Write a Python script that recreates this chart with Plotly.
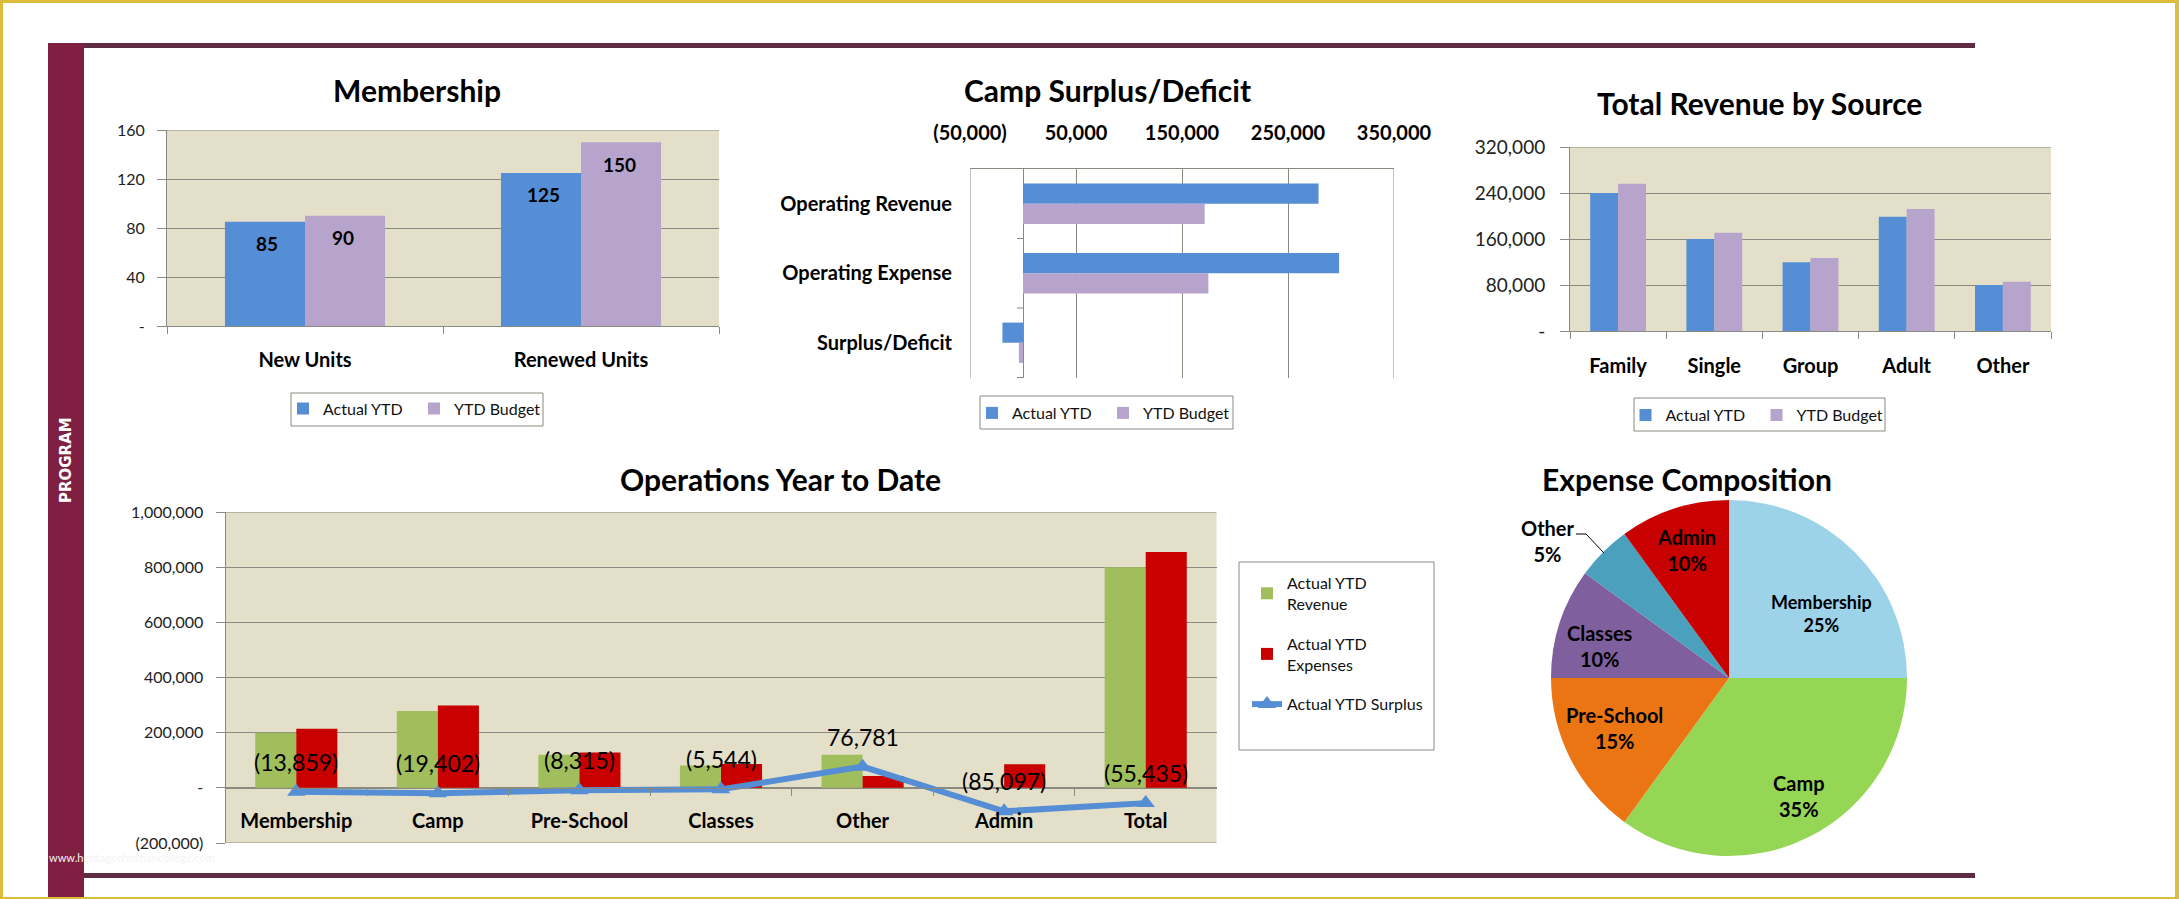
import plotly.graph_objects as go

W, H = 2179, 899

# ---- data ----
mem_cats = ["New Units", "Renewed Units"]
mem_actual = [85, 125]
mem_budget = [90, 150]
mem_ticks = [0, 40, 80, 120, 160]
mem_ticktext = ["-", "40", "80", "120", "160"]

camp_cats = ["Operating Revenue", "Operating Expense", "Surplus/Deficit"]
camp_actual = [278800, 298200, -19402]
camp_budget = [171400, 174900, -3900]
camp_ticks = [-50000, 50000, 150000, 250000, 350000]
camp_ticktext = ["(50,000)", "50,000", "150,000", "250,000", "350,000"]

rev_cats = ["Family", "Single", "Group", "Adult", "Other"]
rev_actual = [240000, 160000, 119400, 198800, 80000]
rev_budget = [256200, 171000, 127000, 212200, 85800]
rev_ticks = [0, 80000, 160000, 240000, 320000]
rev_ticktext = ["-", "80,000", "160,000", "240,000", "320,000"]

ops_cats = ["Membership", "Camp", "Pre-School", "Classes", "Other", "Admin", "Total"]
ops_revenue = [200000, 278800, 120000, 81000, 119781, 0, 800000]
ops_expenses = [213859, 298202, 128315, 86544, 43000, 85097, 855435]
ops_surplus = [-13859, -19402, -8315, -5544, 76781, -85097, -55435]
ops_labels = ["(13,859)", "(19,402)", "(8,315)", "(5,544)", "76,781", "(85,097)", "(55,435)"]
ops_ticks = [-200000, 0, 200000, 400000, 600000, 800000, 1000000]
ops_ticktext = ["(200,000)", "-", "200,000", "400,000", "600,000", "800,000", "1,000,000"]

pie_labels = ["Membership", "Camp", "Pre-School", "Classes", "Other", "Admin"]
pie_values = [25, 35, 15, 10, 5, 10]
pie_colors = ["#9DD3E8", "#95D655", "#EC7513", "#7F5F9D", "#4BA0BE", "#C80000"]

# ---- styling ----
FONT = "Lato"
BLUE, PURPLE, TAN = "#558ED5", "#B7A4CC", "#E3DFC8"
GREEN, RED = "#A0BF5C", "#C80000"
GRID = "#8A8A80"
MAROON_TOP, MAROON_SIDE = "#5E2D44", "#7F1F41"
GOLD = "#DCBC3C"

def fx(p): return p / W
def fy(p): return 1 - p / H
def dom_x(a, b): return [fx(a), fx(b)]
def dom_y(top, bot): return [fy(bot), fy(top)]

shapes, annos = [], []

def rect(x0, y0, x1, y1, fill=None, line=None, layer="above"):
    shapes.append(dict(type="rect", xref="paper", yref="paper", x0=fx(x0), x1=fx(x1), y0=fy(y1), y1=fy(y0),
                       fillcolor=fill or "rgba(0,0,0,0)",
                       line=dict(width=1 if line else 0, color=line or "rgba(0,0,0,0)"), layer=layer))

def text(x, y, s, size, bold=True, color="#000", angle=0, xanchor="center"):
    annos.append(dict(xref="paper", yref="paper", x=fx(x), y=fy(y), text=s, showarrow=False, textangle=angle,
                      xanchor=xanchor, yanchor="middle",
                      font=dict(family=FONT, size=size, color=color, weight=700 if bold else 400)))

# page furniture
rect(0, 0, W, 3, GOLD); rect(0, 0, 3, H, GOLD); rect(2175, 0, W, H, GOLD); rect(0, 897, W, H, GOLD)
rect(48, 43, 1975, 48, MAROON_TOP); rect(80, 873, 1975, 878, MAROON_TOP)
rect(48, 43, 84, 897, MAROON_SIDE)
annos.append(dict(xref="paper", yref="paper", x=fx(66), y=fy(460), text="PROGRAM", showarrow=False, textangle=-90,
                  xanchor="center", yanchor="middle",
                  font=dict(family="DejaVu Sans", size=15, color="#FFFFFF", weight=700)))
text(47, 857, "www.heritagechristiancollege.com", 11, bold=False, color="#F3F3F3", xanchor="left")

# titles
text(417, 90, "Membership", 30)
text(1107, 90, "Camp Surplus/Deficit", 30)
text(1759, 103, "Total Revenue by Source", 30)
text(780, 479, "Operations Year to Date", 30)
text(1687, 479, "Expense Composition", 30)

# plot panels
rect(167, 130, 719, 326, TAN, None, "below")
rect(1570, 147, 2051, 331, TAN, None, "below")
rect(225.5, 512, 1216.5, 843, TAN, None, "below")

# legend frames
rect(291, 393, 543, 426, "#FFFFFF", GRID, "below")
rect(980, 396, 1233, 429, "#FFFFFF", GRID, "below")
rect(1634, 398, 1885, 431, "#FFFFFF", GRID, "below")
rect(1239, 562, 1434, 750, "#FFFFFF", GRID, "below")

# gridlines that sit on the very end of an axis range
def hline(xa, ya, v):
    shapes.append(dict(type="line", xref=f"{xa} domain", yref=ya, x0=0, x1=1, y0=v, y1=v, layer="below",
                       line=dict(color=GRID, width=1)))
def vline(xa, ya, v):
    shapes.append(dict(type="line", xref=xa, yref=f"{ya} domain", x0=v, x1=v, y0=0, y1=1, layer="below",
                       line=dict(color=GRID, width=1)))
hline("x", "y", mem_ticks[-1])
hline("x3", "y3", rev_ticks[-1])
hline("x4", "y4", ops_ticks[-1])
hline("x4", "y4", ops_ticks[0])
vline("x2", "y2", camp_ticks[0])
vline("x2", "y2", camp_ticks[-1])

fig = go.Figure()

def bars(x, y, name, color, xa, ya, legend, orient="v", group=None):
    fig.add_trace(go.Bar(x=x, y=y, name=name, marker=dict(color=color, line=dict(width=0)), orientation=orient,
                         xaxis=xa, yaxis=ya, legend=legend, legendgroup=group))

bars(mem_cats, mem_actual, "Actual YTD", BLUE, "x", "y", "legend")
bars(mem_cats, mem_budget, "YTD Budget", PURPLE, "x", "y", "legend")
bars(camp_actual, camp_cats, "Actual YTD", BLUE, "x2", "y2", "legend2", "h")
bars(camp_budget, camp_cats, "YTD Budget", PURPLE, "x2", "y2", "legend2", "h")
bars(rev_cats, rev_actual, "Actual YTD", BLUE, "x3", "y3", "legend3")
bars(rev_cats, rev_budget, "YTD Budget", PURPLE, "x3", "y3", "legend3")
bars(ops_cats, ops_revenue, "Actual YTD<br>Revenue", GREEN, "x4", "y4", "legend4", group="rev")
bars(ops_cats, ops_expenses, "Actual YTD<br>Expenses", RED, "x4", "y4", "legend4", group="exp")
fig.add_trace(go.Scatter(x=ops_cats, y=ops_surplus, name="Actual YTD Surplus", mode="lines+markers",
                         line=dict(color=BLUE, width=6), marker=dict(symbol="triangle-up", size=16, color=BLUE),
                         xaxis="x4", yaxis="y4", legend="legend4", legendgroup="sur"))
fig.add_trace(go.Pie(labels=pie_labels, values=pie_values, sort=False, direction="clockwise", rotation=0,
                     marker=dict(colors=pie_colors, line=dict(width=0)), textinfo="none", showlegend=False,
                     domain=dict(x=dom_x(1551, 1907), y=dom_y(500, 856))))

# value labels on the Membership bars
for cat, a, b in zip(mem_cats, mem_actual, mem_budget):
    for v, shift in ((a, -38), (b, 38)):
        annos.append(dict(xref="x", yref="y", x=cat, y=v, xshift=shift, yshift=-22, text=str(v), showarrow=False,
                          font=dict(family=FONT, size=19, color="#000", weight=700)))

# surplus labels
for cat, v, s in zip(ops_cats, ops_surplus, ops_labels):
    annos.append(dict(xref="x4", yref="y4", x=cat, y=v, yshift=30, text=s, showarrow=False,
                      font=dict(family=FONT, size=23, color="#000")))

# pie labels
pie_pos = {"Membership": (1821, 613, 18), "Camp": (1799, 796, 20), "Pre-School": (1614, 728, 20),
           "Classes": (1600, 646, 20), "Other": (1548, 541, 20), "Admin": (1686, 550, 20)}
for lab, val in zip(pie_labels, pie_values):
    px_, py_, sz = pie_pos[lab]
    text(px_, py_, f"{lab}<br>{val}%", sz)
shapes.append(dict(type="path", xref="paper", yref="paper", layer="above", line=dict(color="#000", width=1),
                   path=f"M {fx(1576)} {fy(534)} L {fx(1586)} {fy(534)} L {fx(1604)} {fy(553)}"))

# category tick marks at the zero line of the Camp chart
for b in (0.5, 1.5, 2.5):
    shapes.append(dict(type="line", xref="x2", yref="y2", xsizemode="pixel", xanchor=0, x0=-6, x1=0, y0=b, y1=b,
                       line=dict(color=GRID, width=1)))

tick_reg = lambda s: dict(family=FONT, size=s, color="#222")
tick_bold = lambda s: dict(family=FONT, size=s, color="#000", weight=700)
leg_font = dict(family=FONT, size=16, color="#111")

def cat_axis(dom, font, standoff, **kw):
    return dict(domain=dom, type="category", showline=True, linecolor=GRID, ticks="outside", ticklen=7,
                tickcolor=GRID, tickson="boundaries", showgrid=False, tickfont=font, ticklabelstandoff=standoff,
                fixedrange=True, automargin=False, **kw)

def val_axis(dom, rng, vals, txt, font, standoff):
    return dict(domain=dom, range=rng, tickmode="array", tickvals=vals, ticktext=txt, showline=True, linecolor=GRID,
                ticks="outside", ticklen=9, tickcolor=GRID, showgrid=True, gridcolor=GRID, gridwidth=1,
                zeroline=False, tickfont=font, ticklabelstandoff=standoff, fixedrange=True, automargin=False)

def h_legend(x, y):
    return dict(orientation="h", x=fx(x), y=fy(y), xanchor="left", yanchor="middle", bgcolor="rgba(0,0,0,0)",
                font=leg_font, itemclick=False, itemdoubleclick=False, entrywidth=86, entrywidthmode="pixels")

fig.update_layout(
    width=W, height=H, margin=dict(l=0, r=0, t=0, b=0, autoexpand=False), paper_bgcolor="#FFFFFF", plot_bgcolor="rgba(0,0,0,0)",
    barmode="group", font=dict(family=FONT, color="#000"), shapes=shapes, annotations=annos,
    bargap=0.42, bargroupgap=0,
    xaxis=cat_axis(dom_x(167, 719), tick_bold(20), 16, anchor="y"),
    yaxis=val_axis(dom_y(130, 326), [0, 160], mem_ticks, mem_ticktext, tick_reg(16), 9) | dict(anchor="x"),
    xaxis2=dict(domain=dom_x(970, 1394), range=[-50000, 350000], side="top", tickmode="array", tickvals=camp_ticks,
                ticktext=camp_ticktext, tickfont=tick_bold(20), ticklabelstandoff=20, showline=True, linecolor=GRID,
                ticks="", showgrid=True, gridcolor=GRID, zeroline=True, zerolinecolor=GRID, zerolinewidth=1,
                anchor="y2", fixedrange=True, automargin=False),
    yaxis2=dict(domain=dom_y(169, 378), type="category", autorange="reversed", showline=False, ticks="",
                showgrid=False, tickfont=tick_bold(20), ticklabelstandoff=17, anchor="x2", fixedrange=True, automargin=False),
    xaxis3=cat_axis(dom_x(1570, 2051), tick_bold(20), 17, anchor="y3"),
    yaxis3=val_axis(dom_y(147, 331), [0, 320000], rev_ticks, rev_ticktext, tick_reg(19), 11) | dict(anchor="x3"),
    xaxis4=cat_axis(dom_x(225.5, 1216.5), tick_bold(20), 15, anchor="free", position=fy(788)),
    yaxis4=val_axis(dom_y(512, 843), [-200000, 1000000], ops_ticks, ops_ticktext, tick_reg(16), 9) | dict(anchor="x4"),
    legend=h_legend(283, 408.5),
    legend2=h_legend(972, 413),
    legend3=h_legend(1625.5, 415),
    legend4=dict(x=fx(1247), y=fy(566), xanchor="left", yanchor="top", bgcolor="rgba(0,0,0,0)", font=dict(family=FONT, size=16, color="#111"),
                 itemclick=False, itemdoubleclick=False, tracegroupgap=16),
)
fig.update_traces(selector=dict(type="bar"), hoverinfo="skip")
fig.write_html("out.html", config={"displayModeBar": False},
               post_script="document.body.style.margin='0';document.documentElement.style.overflow='hidden';")
